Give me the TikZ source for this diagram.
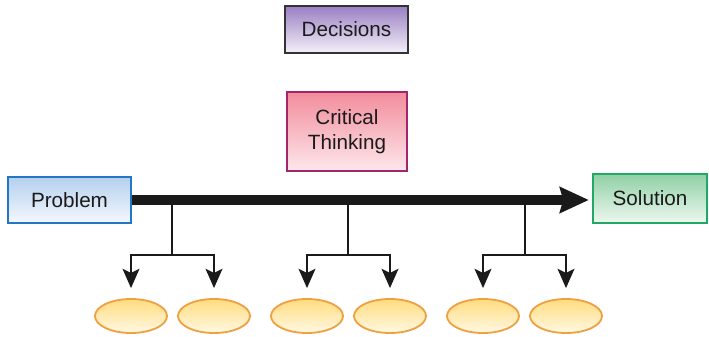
\documentclass[tikz,border=0pt]{standalone}
\usepackage{fontspec}
\setmainfont{Liberation Sans}
\usepackage{tikz}
\usetikzlibrary{arrows.meta}
\usetikzlibrary{shapes.geometric}
\usetikzlibrary{calc}

\definecolor{txtgray}{HTML}{1A1A1A}
\definecolor{decborder}{HTML}{333333}
\definecolor{dectop}{HTML}{9A7FC2}
\definecolor{decbot}{HTML}{F4F0F9}
\definecolor{critborder}{HTML}{A3256B}
\definecolor{crittop}{HTML}{F28C9C}
\definecolor{critbot}{HTML}{FDE7EB}
\definecolor{probborder}{HTML}{2176C7}
\definecolor{probtop}{HTML}{B5D0EE}
\definecolor{probbot}{HTML}{F3F8FD}
\definecolor{solborder}{HTML}{22A866}
\definecolor{soltop}{HTML}{8FD0A4}
\definecolor{solbot}{HTML}{EEF8F1}
\definecolor{ovalborder}{HTML}{EFA043}
\definecolor{ovaltop}{HTML}{FFDC7E}
\definecolor{ovalbot}{HTML}{FFF8E3}

\tikzset{
    labelbox/.style={rectangle, line width=1.4pt, text=txtgray, align=center,
        font=\fontsize{14.7}{17.8}\selectfont, inner sep=0pt},
    oval/.style={ellipse, line width=1.3pt, draw=ovalborder, top color=ovaltop,
        bottom color=ovalbot, minimum width=1.8cm, minimum height=0.85cm, inner sep=0pt},
    branch/.style={line width=1.4pt, draw=txtgray, -{Stealth[length=0.48cm,width=0.42cm,inset=0.1cm]}}
}

\begin{document}
\begin{tikzpicture}
    \useasboundingbox (0,0) rectangle (17.725,8.4);

    \coordinate (J1) at (4.3,2.025);
    \coordinate (J2) at (8.7,2.025);
    \coordinate (J3) at (13.125,2.025);

    % Boxes
    \node[labelbox, draw=decborder, top color=dectop, bottom color=decbot,
        minimum width=3.075cm, minimum height=1.175cm] (Decisions) at (8.6625,7.6625) {Decisions};

    \node[labelbox, draw=critborder, top color=crittop, bottom color=critbot,
        minimum width=3.0cm, minimum height=1.975cm] (Critical) at (8.675,5.1125) {Critical\\Thinking};

    \node[labelbox, draw=probborder, top color=probtop, bottom color=probbot,
        minimum width=3.075cm, minimum height=1.15cm] (Problem) at (1.7375,3.4) {Problem};

    \node[labelbox, draw=solborder, top color=soltop, bottom color=solbot,
        minimum width=2.85cm, minimum height=1.225cm] (Solution) at (16.25,3.4375) {Solution};

    % Ovals
    \node[oval] (O1) at (3.275,0.5) {};
    \node[oval] (O2) at (5.35,0.5) {};
    \node[oval] (O3) at (7.675,0.5) {};
    \node[oval] (O4) at (9.75,0.5) {};
    \node[oval] (O5) at (12.075,0.5) {};
    \node[oval] (O6) at (14.15,0.5) {};

    % Main arrow
    \draw[line width=0.25cm, draw=txtgray, shorten >=0.08cm,
        -{Stealth[length=0.72cm,width=0.64cm,inset=0.08cm]}] (Problem.east) -- (Problem.east -| Solution.west);

    % Branches
    \draw[line width=1.4pt, draw=txtgray] (J1 |- Problem.east) -- (J1);
    \draw[line width=1.4pt, draw=txtgray] (J2 |- Problem.east) -- (J2);
    \draw[line width=1.4pt, draw=txtgray] (J3 |- Problem.east) -- (J3);

    \draw[branch, shorten >=0.25cm] (J1) -| (O1);
    \draw[branch, shorten >=0.25cm] (J1) -| (O2);
    \draw[branch, shorten >=0.25cm] (J2) -| (O3);
    \draw[branch, shorten >=0.25cm] (J2) -| (O4);
    \draw[branch, shorten >=0.25cm] (J3) -| (O5);
    \draw[branch, shorten >=0.25cm] (J3) -| (O6);

\end{tikzpicture}
\end{document}
